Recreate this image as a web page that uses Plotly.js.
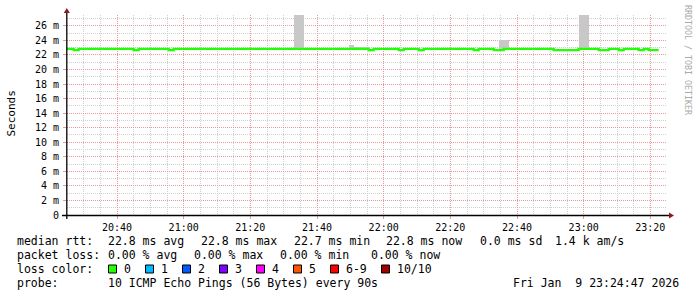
<!DOCTYPE html>
<html>
<head>
<meta charset="utf-8">
<script src="https://cdn.plot.ly/plotly-3.0.1.min.js"></script>
<style>html,body{margin:0;padding:0;background:#fff;}#chart{width:697px;height:297px;}</style>
</head>
<body>
<div id="chart"></div>
<script>
// ---- data ----
// median rtt (ms), step changes (value holds until next time)
const rttTimes = ['2026-01-09 20:25:00','2026-01-09 20:27:00','2026-01-09 20:28:30','2026-01-09 20:45:00','2026-01-09 20:46:30',
  '2026-01-09 20:55:30','2026-01-09 20:57:00','2026-01-09 21:55:30','2026-01-09 21:57:00','2026-01-09 22:04:30',
  '2026-01-09 22:06:00','2026-01-09 22:10:30','2026-01-09 22:12:00','2026-01-09 22:27:00','2026-01-09 22:28:30',
  '2026-01-09 22:33:00','2026-01-09 22:36:00','2026-01-09 22:51:00','2026-01-09 22:58:30','2026-01-09 23:04:30',
  '2026-01-09 23:07:30','2026-01-09 23:10:30','2026-01-09 23:12:00','2026-01-09 23:16:30','2026-01-09 23:18:00',
  '2026-01-09 23:19:30','2026-01-09 23:22:30'];
const rttMedian = [22.84,22.66,22.84,22.66,22.84,22.66,22.84,22.66,22.84,22.66,22.84,22.66,22.84,22.66,22.84,
  22.66,22.84,22.66,22.84,22.66,22.84,22.66,22.84,22.66,22.84,22.66,22.66];
// smoke (ping spread), per 90 s step ending at time
const smokeTimes = ['2026-01-09 21:34:30','2026-01-09 21:36:00','2026-01-09 21:51:00','2026-01-09 21:52:30','2026-01-09 21:54:00',
  '2026-01-09 21:55:30','2026-01-09 22:36:00','2026-01-09 22:37:30','2026-01-09 23:00:00','2026-01-09 23:01:30'];
const smokeLow  = [22.7,22.7,22.7,22.7,22.7,22.7,22.7,22.7,22.7,22.7];
const smokeHigh = [27.5,27.5,23.33,23.09,23.09,23.09,24.05,24.05,27.5,27.5];
// axis ticks
const yTickVals = [0,2,4,6,8,10,12,14,16,18,20,22,24,26];
const yTickText = ['0','2 m','4 m','6 m','8 m','10 m','12 m','14 m','16 m','18 m','20 m','22 m','24 m','26 m'];
// legend texts
const statRows = [
  ['median rtt:', '22.8 ms avg', '22.8 ms max', '22.7 ms min', '22.8 ms now', '0.0 ms sd', '1.4 k am/s'],
  ['packet loss:', '0.00 % avg', '0.00 % max', '0.00 % min', '0.00 % now'],
];
const lossLabels = ['0','1','2','3','4','5','6-9','10/10'];
const lossColors = ['#26ff00','#00b8ff','#0059ff','#7e00ff','#ff00ff','#ff5500','#ff0000','#a10000'];
const probeText = '10 ICMP Echo Pings (56 Bytes) every 90s';
const dateText = 'Fri Jan\u00a0\u00a09 23:24:47 2026';

// ---- layout helpers ----
const L = 67, T = 15, W = 600, H = 200;
const px = x => (x - L) / W;
const py = y => (T + H - y) / H;
const MONO = 'DejaVu Sans Mono, monospace';

const traces = [
  {type:'bar', x: smokeTimes, base: smokeLow, y: smokeHigh.map((h,i)=>h - smokeLow[i]),
   width: 90000, offset: -90000, marker:{color:'#c8c8c8', line:{width:0}}, hoverinfo:'skip'},
  {type:'scatter', mode:'lines', x: rttTimes, y: rttMedian, line:{shape:'hv', color:'#22ff00', width:2.4}, hoverinfo:'skip'}
];

const annotations = [];
const shapes = [];
function txt(x, y, s, opts) {
  annotations.push(Object.assign({xref:'paper', yref:'paper', x:px(x), y:py(y), text:s, showarrow:false,
    xanchor:'left', yanchor:'middle', borderpad:0, font:{family:MONO, size:11.5, color:'#000'}}, opts||{}));
}
// stats rows
const row1X = [15.5, 106.5, 199.5, 292.5, 385, 478.5, 553.5];
const row2X = [15.5, 106.5, 192.5, 278.5, 369.5];
statRows[0].forEach((s,i)=>txt(row1X[i], 241, s));
statRows[1].forEach((s,i)=>txt(row2X[i], 255, s));
// loss color row
txt(15.5, 269, 'loss color:');
const boxX = [108.5, 145.5, 182.5, 219.5, 256.5, 293.5, 330.5, 381.5];
lossLabels.forEach((s,i)=>{
  shapes.push({type:'rect', xref:'paper', yref:'paper', x0:px(boxX[i]), x1:px(boxX[i]+8), y0:py(273), y1:py(265),
    fillcolor: lossColors[i], line:{color:'#000', width:1}, layer:'above'});
  txt(boxX[i] + 14, 269, s);
});
txt(15.5, 283, 'probe:');
txt(106.5, 283, probeText);
txt(512, 283, dateText);
// axis title and watermark
annotations.push({xref:'paper', yref:'paper', x:px(10.5), y:py(114), text:'Seconds', showarrow:false, textangle:-90,
  xanchor:'center', yanchor:'middle', font:{family:MONO, size:11, color:'#000'}});
annotations.push({xref:'paper', yref:'paper', x:px(688), y:py(60), text:'RRDTOOL / TOBI OETIKER', showarrow:false, textangle:90,
  xanchor:'center', yanchor:'middle', font:{family:MONO, size:8.3, color:'#aaaaaa'}});
// axis lines and arrows
shapes.push({type:'line', xref:'paper', yref:'paper', x0:px(62), x1:px(670), y0:py(215.5), y1:py(215.5), line:{color:'#000', width:1.3}, layer:'above'});
shapes.push({type:'line', xref:'paper', yref:'paper', x0:px(66.8), x1:px(66.8), y0:py(219), y1:py(12), line:{color:'#000', width:1.3}, layer:'above'});
shapes.push({type:'path', xref:'paper', yref:'paper', path:`M ${px(669)} ${py(212.5)} L ${px(674)} ${py(215.5)} L ${px(669)} ${py(218.5)} Z`,
  fillcolor:'#8b1a1a', line:{width:0}, layer:'above'});
shapes.push({type:'path', xref:'paper', yref:'paper', path:`M ${px(63.8)} ${py(13)} L ${px(66.8)} ${py(8)} L ${px(69.8)} ${py(13)} Z`,
  fillcolor:'#8b1a1a', line:{width:0}, layer:'above'});

const layout = {
  width:697, height:297,
  margin:{l:L, r:697-L-W, t:T, b:297-T-H, pad:0},
  paper_bgcolor:'#ffffff', plot_bgcolor:'#ffffff',
  showlegend:false, bargap:0,
  font:{family:MONO, size:10, color:'#000'},
  xaxis:{type:'date', range:['2026-01-09 20:25:00','2026-01-09 23:25:00'],
    tick0:'2026-01-09 20:40:00', dtick:1200000, tickformat:'%H:%M',
    showgrid:true, gridcolor:'#e89a9a', griddash:'1px,1px', gridwidth:1,
    minor:{tick0:'2026-01-09 20:40:00', dtick:300000, showgrid:true, gridcolor:'#cfcfcf', griddash:'1px,1px', gridwidth:1},
    ticks:'outside', ticklen:3, tickcolor:'#e89a9a', tickwidth:1,
    zeroline:false, showline:false, fixedrange:true,
    tickfont:{family:MONO, size:10, color:'#000'}},
  yaxis:{range:[0,27.49], tickmode:'array', tickvals:yTickVals, ticktext:yTickText,
    showgrid:true, gridcolor:'#e89a9a', griddash:'1px,1px', gridwidth:1,
    minor:{dtick:1, tick0:0, showgrid:true, gridcolor:'#cfcfcf', griddash:'1px,1px', gridwidth:1},
    ticks:'outside', ticklen:3, tickcolor:'#e89a9a', tickwidth:1, ticklabelstandoff:2,
    zeroline:false, showline:false, fixedrange:true,
    tickfont:{family:MONO, size:10, color:'#000'}},
  annotations: annotations,
  shapes: shapes
};

Plotly.newPlot('chart', traces, layout, {staticPlot:true, displayModeBar:false});
</script>
</body>
</html>
